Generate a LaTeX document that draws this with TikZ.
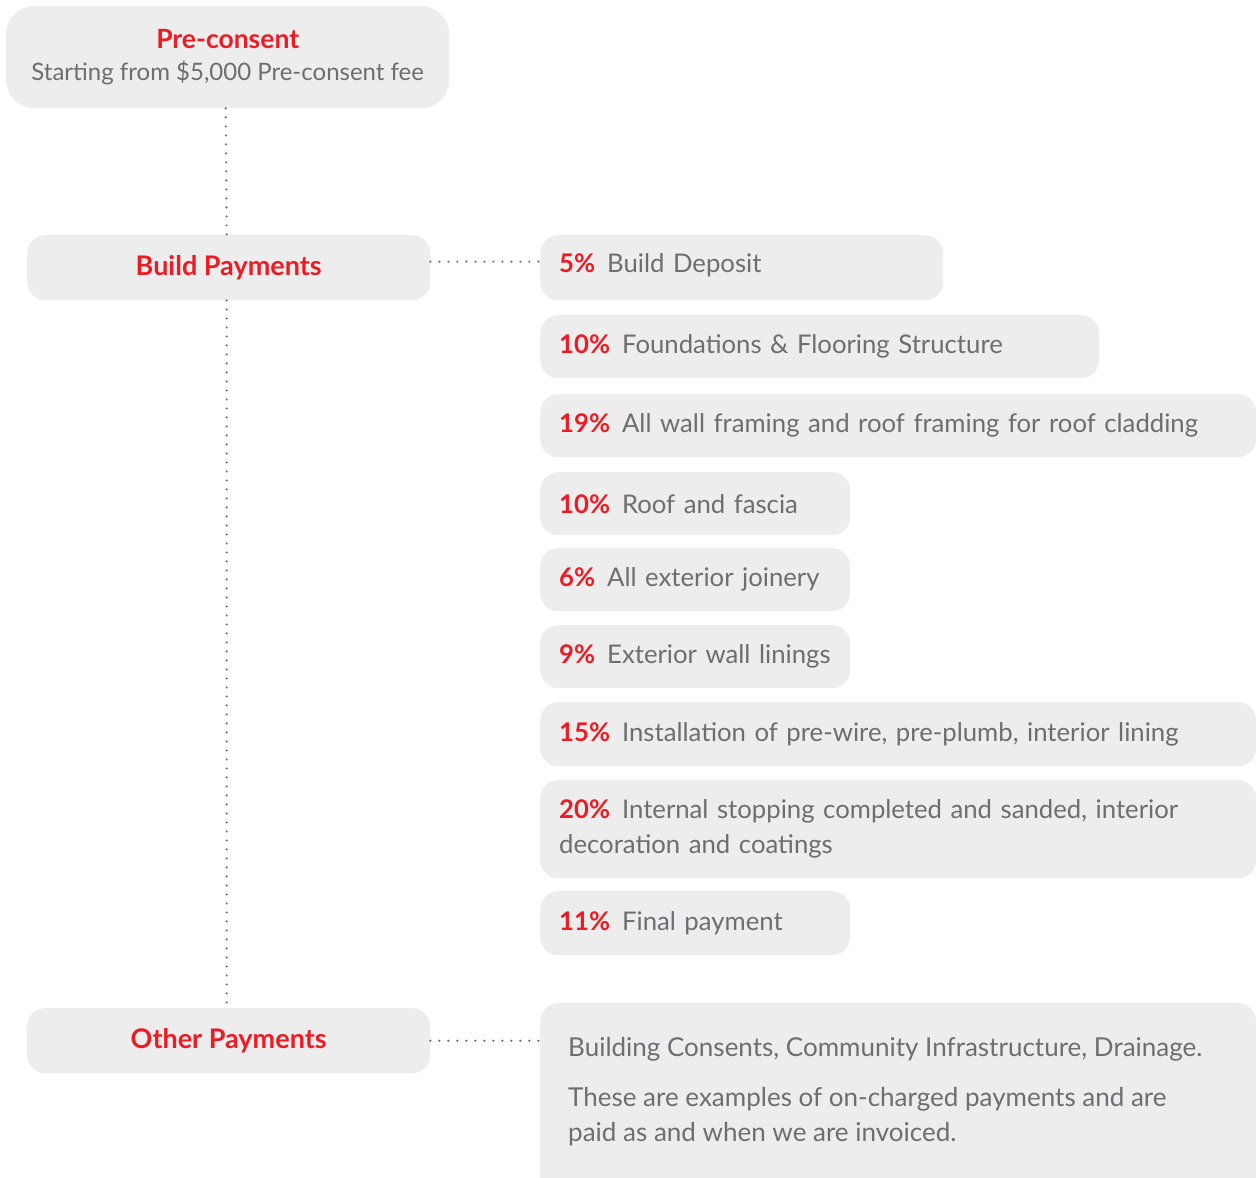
\documentclass[tikz,border=0pt]{standalone}
\usepackage{fontspec}
\setmainfont{Lato}
\definecolor{boxgray}{HTML}{EDEDED}
\definecolor{brandred}{HTML}{EC1C24}
\definecolor{txtgray}{HTML}{6D6D72}
\definecolor{dotgray}{HTML}{6F6F72}
\newcommand\pctlab[1]{{\bfseries\color{brandred}#1}\hspace{12pt}}
\begin{document}
\begin{tikzpicture}[x=1pt,y=-1pt,
  box/.style={fill=boxgray, draw=none, rounded corners=18pt, anchor=north west, inner sep=0pt},
  item/.style={box, inner xsep=19pt, align=left, text=txtgray,
    font=\fontsize{25.7}{35}\selectfont},
  head/.style={fill=boxgray, draw=none, rounded corners=18pt, inner sep=0pt,
    minimum width=403pt, minimum height=65pt, anchor=north west,
    text=brandred, font=\fontsize{27}{32}\selectfont\bfseries},
  dotline/.style={draw=dotgray, line width=2.4pt, line cap=round, dash pattern=on 0pt off 9pt}]
\useasboundingbox (0,0) rectangle (1256,1178);
\clip (0,0) rectangle (1256,1178);
% left column
\node[box, rounded corners=28pt, minimum width=443pt, minimum height=102pt, align=center,
  font=\fontsize{24}{32}\selectfont] (pre) at (6,6)
  {{\color{brandred}\bfseries\fontsize{26.5}{32}\selectfont Pre-consent}\\
   {\color{txtgray}Starting from \$5,000 Pre-consent fee}};
\node[head] (bp) at (27,235) {\raisebox{5pt}{Build Payments}};
\node[head] (op) at (27,1008) {Other Payments};
% right column
\node[item, minimum height=65pt, text width=365pt] (b1) at (540,235) {\raisebox{10pt}{\pctlab{5\%}Build Deposit}};
\node[item, minimum height=63pt, text width=521pt] (b2) at (540,315) {\mbox{\pctlab{10\%}Foundations \& Flooring Structure}};
\node[item, minimum height=63pt, text width=678pt] (b3) at (540,394) {\mbox{\pctlab{19\%}All wall framing and roof framing for roof cladding}};
\node[item, minimum height=63pt, text width=272pt] (b4) at (540,472) {\mbox{\pctlab{10\%}Roof and fascia}};
\node[item, minimum height=63pt, text width=272pt] (b5) at (540,548) {\mbox{\pctlab{6\%}All exterior joinery}};
\node[item, minimum height=63pt, text width=272pt] (b6) at (540,625) {\mbox{\pctlab{9\%}Exterior wall linings}};
\node[item, minimum height=64pt, text width=678pt] (b7) at (540,702) {\mbox{\pctlab{15\%}Installation of pre-wire, pre-plumb, interior lining}};
\node[item, minimum height=98pt, text width=678pt] (b8) at (540,780) {\mbox{\pctlab{20\%}Internal stopping completed and sanded, interior}\\decoration and coatings};
\node[item, minimum height=64pt, text width=272pt] (b9) at (540,891) {\mbox{\pctlab{11\%}Final payment}};
\node[box, minimum width=716pt, minimum height=230pt] (ob) at (540,1003) {};
\node[anchor=north west, inner sep=0pt, align=left, text=txtgray, font=\fontsize{26}{35}\selectfont] (obt)
  at ([xshift=28pt, yshift=-34pt]ob.north west)
  {Building Consents, Community Infrastructure, Drainage.\\[15pt]
   These are examples of on-charged payments and are\\paid as and when we are invoiced.};
% connectors
\draw[dotline] ([xshift=-2pt]pre.south) -- ([xshift=-2pt]bp.north);
\draw[dotline] ([xshift=-2pt]bp.south) -- ([xshift=-2pt]op.north);
\draw[dotline] ([yshift=6pt]bp.east) -- ([yshift=6pt]b1.west);
\draw[dotline] (op.east) -- (op.east -| ob.west);
\end{tikzpicture}
\end{document}
